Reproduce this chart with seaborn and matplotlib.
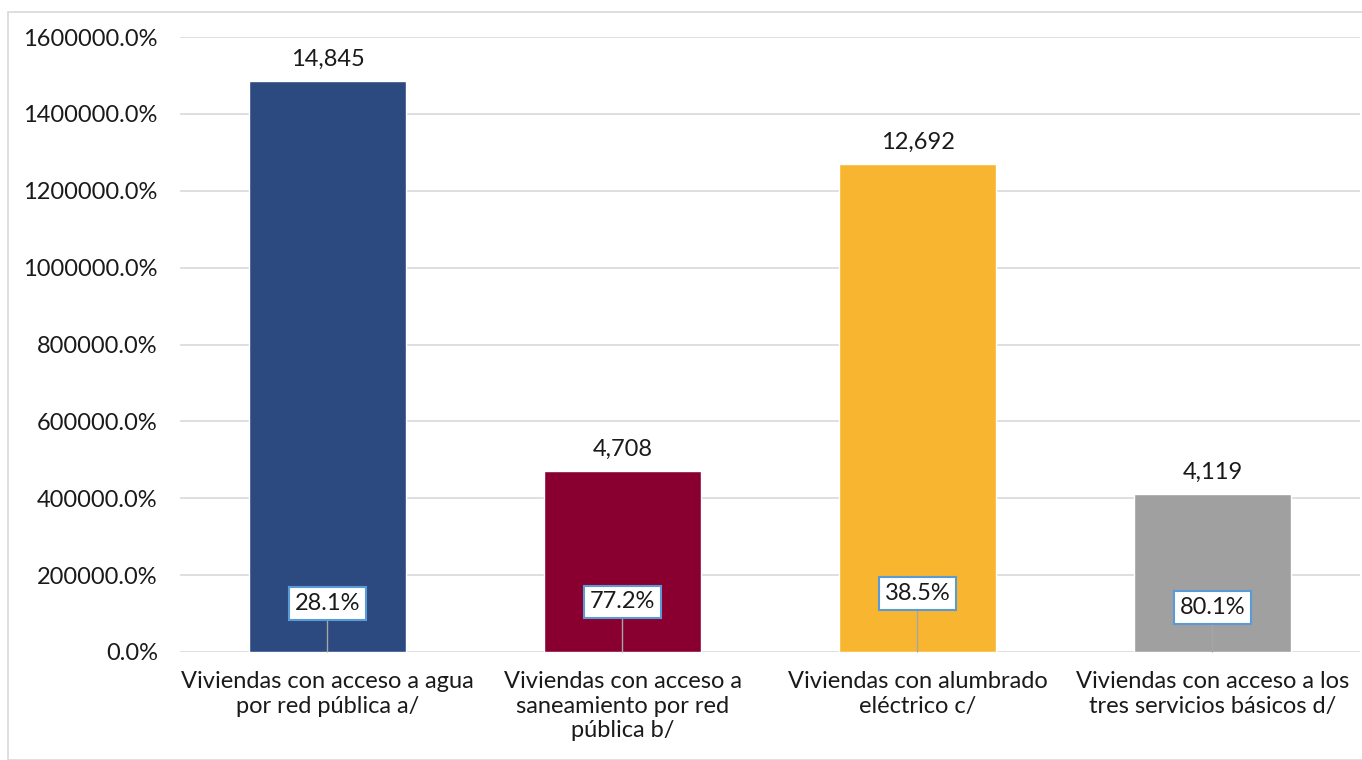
import matplotlib
matplotlib.use("Agg")
import matplotlib.pyplot as plt
import matplotlib.patches as mpatches
import seaborn as sns
import pandas as pd
from matplotlib.ticker import FuncFormatter

categories = [
    "Viviendas con acceso a agua\npor red pública a/",
    "Viviendas con acceso a\nsaneamiento por red\npública b/",
    "Viviendas con alumbrado\neléctrico c/",
    "Viviendas con acceso a los\ntres servicios básicos d/",
]
values = [14845, 4708, 12692, 4119]
percents = [28.1, 77.2, 38.5, 80.1]
colors = ["#2C4A80", "#890030", "#F8B52F", "#A0A0A0"]
label_offsets_pt = [35, 36, 42, 32]

sns.set_theme(style="white")
plt.rcParams["font.family"] = ["Lato", "DejaVu Sans"]

FS = 17

fig = plt.figure(figsize=(13.62, 7.6), dpi=100)
ax = fig.add_axes([180 / 1362, 1 - 652 / 760, 1180 / 1362, 615 / 760])

df = pd.DataFrame({"cat": categories, "val": values})
sns.barplot(data=df, x="cat", y="val", hue="cat", palette=colors,
            width=0.53, legend=False, ax=ax, saturation=1, zorder=2)

ax.set_ylim(0, 16000)
ax.set_xlim(-0.5, 3.5)
ax.set_yticks(range(0, 16001, 2000))
ax.yaxis.set_major_formatter(FuncFormatter(lambda v, p: f"{v*100:.1f}%"))
ax.grid(axis="y", color="#D9D9D9", linewidth=1.2, zorder=0)
ax.set_axisbelow(True)
for s in ax.spines.values():
    s.set_visible(False)
ax.tick_params(axis="both", length=0, labelsize=FS, colors="#1a1a1a")
ax.tick_params(axis="y", pad=16)
ax.tick_params(axis="x", pad=14)
ax.set_xlabel("")
ax.set_ylabel("")

for i, v in enumerate(values):
    ax.annotate(f"{v:,}", xy=(i, v), xytext=(0, 8), textcoords="offset points",
                ha="center", va="bottom", fontsize=FS, color="#1a1a1a")

for i, p in enumerate(percents):
    ax.annotate(f"{p:.1f}%", xy=(i, 0), xytext=(0, label_offsets_pt[i]),
                textcoords="offset points", ha="center", va="center",
                fontsize=FS, color="#1a1a1a",
                bbox=dict(boxstyle="square,pad=0.25", fc="white", ec="#5B9BD5", lw=1.5),
                arrowprops=dict(arrowstyle="-", color="#A6A6A6", lw=1, shrinkA=0, shrinkB=0),
                zorder=5)

border = mpatches.Rectangle((8 / 1362, 0), 1.0, 1 - 12 / 760, transform=fig.transFigure,
                            fill=False, ec="#D9D9D9", lw=1.2)
fig.patches.append(border)

fig.savefig("out.png", dpi=100)
